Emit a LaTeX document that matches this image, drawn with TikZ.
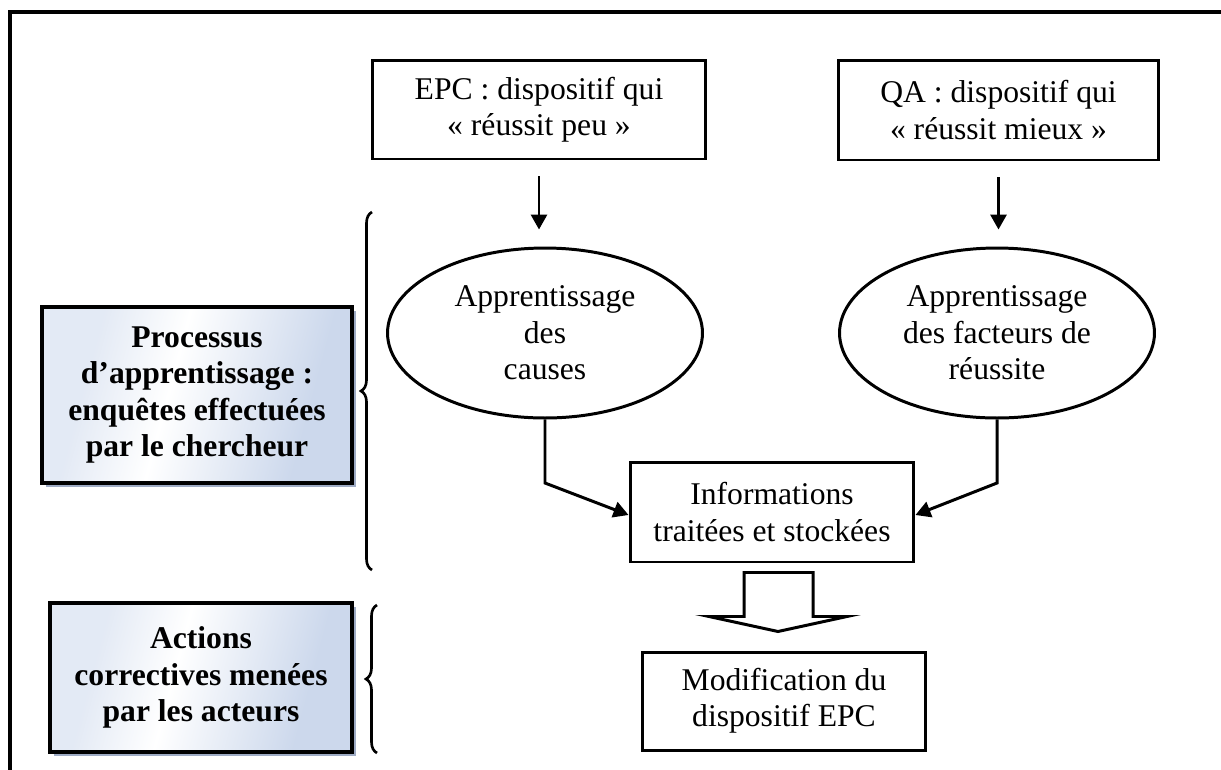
\documentclass[tikz,border=0pt]{standalone}
\usepackage{fontspec}
\setmainfont{Liberation Serif}
\usetikzlibrary{shapes.geometric,arrows.meta,decorations.pathreplacing,shadows,calc}
\definecolor{tagblue}{RGB}{204,216,236}
\definecolor{tagshadow}{RGB}{158,171,196}
\pgfdeclarehorizontalshading{tagshade}{100bp}{color(0bp)=(tagblue!55!white); color(30bp)=(tagblue!55!white); color(45bp)=(white); color(70bp)=(tagblue); color(100bp)=(tagblue)}

\begin{document}
\begin{tikzpicture}[x=0.02cm,y=-0.02cm,
    box/.style={draw,line width=1.7pt,align=center,inner sep=0,font=\textfontsize},
    bubble/.style={draw,ellipse,line width=1.7pt,align=center,inner sep=0,minimum width=6.3cm,minimum height=3.4cm,font=\textfontsize},
    tagbox/.style={draw,line width=1.9pt,align=center,inner sep=0,font=\textfontsize\bfseries,shading=tagshade,shading angle=-15,drop shadow={shadow xshift=0.08cm,shadow yshift=-0.08cm,fill=tagshadow,opacity=1}},
    flow/.style={line width=1.7pt,-{Triangle[length=0.3cm,width=0.32cm]}},
    curly/.style={line width=1.5pt,decorate,decoration={brace,amplitude=0.22cm}}]
    \pgfmathsetmacro{\framewidth}{1221}
    \pgfmathsetmacro{\frameheight}{769}
    \providecommand{\textfontsize}{\fontsize{18pt}{20.7pt}\selectfont}
    \useasboundingbox (0,0) rectangle (\framewidth,\frameheight);
    \draw[line width=2pt] (10,\frameheight+20) -- (10,12) -- (\framewidth+20,12);
    \node[box,minimum width=6.68cm,minimum height=1.98cm] (epc) at (539,109.5) {EPC : dispositif qui\\« réussit peu »};
    \node[box,minimum width=6.42cm,minimum height=2cm] (qa) at (998.5,110) {QA : dispositif qui\\« réussit mieux »};
    \node[bubble] (causes) at (545,333) {Apprentissage\\des\\causes};
    \node[bubble] (facteurs) at (997,333) {Apprentissage\\des facteurs de\\réussite};
    \node[box,minimum width=5.68cm,minimum height=2cm] (info) at (772,512) {Informations\\traitées et stockées};
    \node[box,minimum width=5.68cm,minimum height=1.96cm] (modif) at (784,701) {Modification du\\dispositif EPC};
    \node[tagbox,minimum width=6.2cm,minimum height=3.52cm] (processus) at (197,395) {Processus\\d’apprentissage :\\enquêtes effectuées\\par le chercheur};
    \node[tagbox,minimum width=6.04cm,minimum height=2.98cm] (actions) at (201,677.5) {Actions\\correctives menées\\par les acteurs};
    \draw[flow] ([yshift=-0.32cm]epc.south) -- ([yshift=0.34cm]epc.south |- causes.north);
    \draw[flow] ([yshift=-0.32cm]qa.south) -- ([yshift=0.34cm]qa.south |- facteurs.north);
    \draw[flow] (causes.south) -- (causes.south |- 0,483) -- ([yshift=-0.06cm]info.west);
    \draw[flow] (facteurs.south) -- (facteurs.south |- 0,483) -- ([yshift=-0.06cm]info.east);
    \draw[line width=1.7pt,fill=white] ($(info.south)+(-28,9)$) -- ++(69,0) -- ++(0,44) -- ++(34,0) -- ++(-69,15) -- ++(-69,-15) -- ++(35,0) -- cycle;
    \draw[curly] (372,570) -- (372,212);
    \draw[curly] (377,753) -- (377,605);
\end{tikzpicture}
\end{document}
